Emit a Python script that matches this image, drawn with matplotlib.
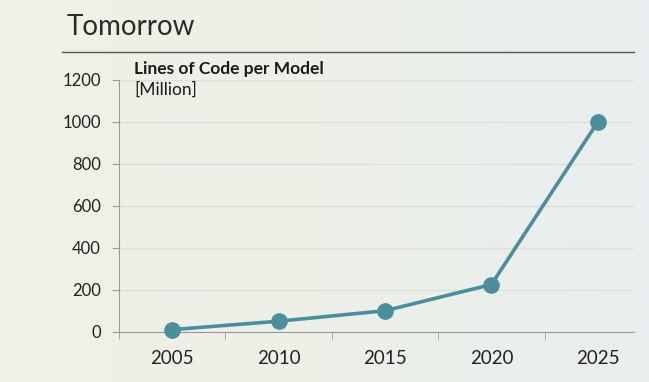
import matplotlib
matplotlib.use("Agg")
import matplotlib.pyplot as plt
import numpy as np
from matplotlib.colors import LinearSegmentedColormap

years = ["2005", "2010", "2015", "2020", "2025"]
loc_million = [10, 50, 100, 225, 1000]
yticks = [0, 200, 400, 600, 800, 1000, 1200]

plt.rcParams["font.family"] = ["Lato", "DejaVu Sans"]
teal = "#4a8f9b"

fig = plt.figure(figsize=(6.49, 3.82), dpi=100)

# soft slide background
bg = fig.add_axes([0, 0, 1, 1], zorder=-10)
cmap = LinearSegmentedColormap.from_list("bg", ["#f0f1e6", "#edf0e8", "#e9eeef"])
grad = np.linspace(0, 1, 256).reshape(1, -1)
bg.imshow(grad, aspect="auto", cmap=cmap, extent=[0, 1, 0, 1])
bg.set_axis_off()

fig.text(67 / 649, 1 - 27 / 382, "Tomorrow", fontsize=20, color="#2b2b2b",
         va="center", ha="left")
fig.add_artist(plt.Line2D([62 / 649, 634 / 649], [1 - 52 / 382] * 2,
                          color="#555555", lw=1.0, transform=fig.transFigure))

ax = fig.add_axes([119 / 649, 1 - 331.7 / 382, (634 - 119) / 649, (331.7 - 80) / 382])
ax.set_facecolor("none")
x = np.arange(len(years))
ax.plot(x, loc_million, color=teal, lw=2.6, marker="o", ms=11,
        clip_on=False, zorder=5)

ax.set_xlim(-0.5, 4.34)
ax.set_ylim(0, 1200)
ax.set_yticks(yticks)
ax.set_yticklabels([str(v) for v in yticks], fontsize=12, color="#222222")
ax.set_xticks(x)
ax.set_xticklabels(years, fontsize=13.5, color="#222222")
ax.set_xticks(np.arange(-0.5, 4.5, 1), minor=True)
ax.tick_params(axis="x", which="major", length=0, pad=13)
ax.tick_params(axis="x", which="minor", length=5, color="#999999")
ax.tick_params(axis="y", length=5, color="#999999", pad=8)
ax.grid(axis="y", color="#dcdfdb", lw=1.0)
for s in ["top", "right"]:
    ax.spines[s].set_visible(False)
for s in ["left", "bottom"]:
    ax.spines[s].set_color("#999999")

ax.text(134 / 649, 1 - 69 / 382, "Lines of Code per Model", fontsize=12.5,
        fontweight="bold", color="#1a1a1a", transform=fig.transFigure, va="center")
ax.text(134 / 649, 1 - 90 / 382, "[Million]", fontsize=12.5,
        color="#1a1a1a", transform=fig.transFigure, va="center")

fig.savefig("out.png", dpi=100)
